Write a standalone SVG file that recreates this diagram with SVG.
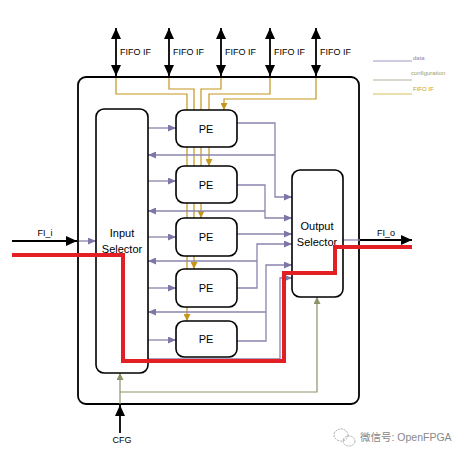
<svg xmlns="http://www.w3.org/2000/svg" width="468" height="458" viewBox="0 0 468 458">
<style>
.box{fill:#fff;stroke:#000;stroke-width:1.6}
.t{font-family:"Liberation Sans",Arial,sans-serif;fill:#000;text-anchor:middle}
.lbl{font-family:"Liberation Sans",Arial,sans-serif;fill:#000;font-size:9px}
.blk{fill:none;stroke:#000;stroke-width:1.8}
.dat{fill:none;stroke:#8a84ad;stroke-width:1.3}
.gld{fill:none;stroke:#c4961c;stroke-width:1.2}
.cfg{fill:none;stroke:#8e9268;stroke-width:1.2}
.red{fill:none;stroke:#e31e24;stroke-width:4;stroke-linejoin:miter}
.leg{font-family:"Liberation Sans",Arial,sans-serif;font-size:6px}
</style>
<defs>
<marker id="ab" markerWidth="11" markerHeight="10" refX="11" refY="5" orient="auto-start-reverse" markerUnits="userSpaceOnUse"><path d="M0,0 L11,5 L0,10 z" fill="#000"/></marker>
<marker id="ap" markerWidth="8" markerHeight="7" refX="8" refY="3.5" orient="auto" markerUnits="userSpaceOnUse"><path d="M0,0 L8,3.5 L0,7 z" fill="#7d76a6"/></marker>
<marker id="ag" markerWidth="7" markerHeight="7" refX="7" refY="3.5" orient="auto" markerUnits="userSpaceOnUse"><path d="M0,0 L7,3.5 L0,7 z" fill="#c4961c"/></marker>
<marker id="ac" markerWidth="7" markerHeight="7" refX="7" refY="3.5" orient="auto" markerUnits="userSpaceOnUse"><path d="M0,0 L7,3.5 L0,7 z" fill="#8e9268"/></marker>
</defs>

<g id="outer"><rect x="78" y="77" width="281" height="327" rx="8" fill="#fff" stroke="#000" stroke-width="1.8"/></g>

<g id="connectors">
<!-- FIFO IF external arrows -->
<path class="blk" d="M116,28 V76" marker-start="url(#ab)" marker-end="url(#ab)"/>
<path class="blk" d="M169,28 V76" marker-start="url(#ab)" marker-end="url(#ab)"/>
<path class="blk" d="M221,28 V76" marker-start="url(#ab)" marker-end="url(#ab)"/>
<path class="blk" d="M270,28 V76" marker-start="url(#ab)" marker-end="url(#ab)"/>
<path class="blk" d="M316,28 V76" marker-start="url(#ab)" marker-end="url(#ab)"/>
<!-- gold FIFO lines -->
<path class="gld" d="M116,78 V94 H187 V110"/>
<path class="gld" d="M169,78 V89 H194 V110"/>
<path class="gld" d="M221,78 V89 H201 V110"/>
<path class="gld" d="M270,78 V94 H209 V110"/>
<path class="gld" d="M316,78 V99 H224 V110" marker-end="url(#ag)"/>
<path class="gld" d="M187,147 V166 M194,147 V166 M201,147 V166"/>
<path class="gld" d="M209,147 V166" marker-end="url(#ag)"/>
<path class="gld" d="M187,203 V218 M194,203 V218"/>
<path class="gld" d="M201,203 V218" marker-end="url(#ag)"/>
<path class="gld" d="M187,256 V269"/>
<path class="gld" d="M194,256 V269" marker-end="url(#ag)"/>
<path class="gld" d="M187,307 V321" marker-end="url(#ag)"/>
<!-- data lines -->
<path class="dat" d="M79,241 H96" marker-end="url(#ap)"/>
<path class="dat" d="M148,128 H176" marker-end="url(#ap)"/>
<path class="dat" d="M148,181 H176" marker-end="url(#ap)"/>
<path class="dat" d="M148,237 H176" marker-end="url(#ap)"/>
<path class="dat" d="M148,288 H176" marker-end="url(#ap)"/>
<path class="dat" d="M148,340 H176" marker-end="url(#ap)"/>
<path class="dat" d="M237,123 H275 V197 H292" marker-end="url(#ap)"/>
<path class="dat" d="M275,155 H148" marker-end="url(#ap)"/>
<path class="dat" d="M237,185 H265 V218 H292" marker-end="url(#ap)"/>
<path class="dat" d="M265,211 H148" marker-end="url(#ap)"/>
<path class="dat" d="M237,234 H292" marker-end="url(#ap)"/>
<path class="dat" d="M237,288 H257 V244 H292" marker-end="url(#ap)"/>
<path class="dat" d="M257,261 H148" marker-end="url(#ap)"/>
<path class="dat" d="M237,341 H266 V265 H292" marker-end="url(#ap)"/>
<path class="dat" d="M266,312 H148" marker-end="url(#ap)"/>
<path class="dat" d="M148,359 H280 V278 H292" marker-end="url(#ap)"/>
<path class="dat" d="M343,240 H360"/>
<!-- config lines -->
<path class="cfg" d="M120,404 V373" marker-end="url(#ac)"/>
<path class="cfg" d="M120,392 H317 V297" marker-end="url(#ac)"/>
<!-- external I/O -->
<path class="blk" d="M12,241 H77" marker-end="url(#ab)" stroke-width="1.4"/>
<path class="blk" d="M360,240 H412" marker-end="url(#ab)" stroke-width="1.4"/>
<path class="blk" d="M120,433 V405" marker-end="url(#ab)" stroke-width="1.4"/>
</g>

<g id="input-selector"><rect class="box" x="96" y="109" width="52" height="264" rx="8"/>
<text class="t" x="122" y="237" font-size="11">Input</text><text class="t" x="122" y="253" font-size="11">Selector</text></g>
<g id="output-selector"><rect class="box" x="292" y="170" width="51" height="127" rx="8"/>
<text class="t" x="317" y="230" font-size="11">Output</text><text class="t" x="317" y="246" font-size="11">Selector</text></g>
<g id="pe1"><rect class="box" x="176" y="110" width="61" height="37" rx="8"/><text class="t" x="206" y="133" font-size="11">PE</text></g>
<g id="pe2"><rect class="box" x="176" y="166" width="61" height="37" rx="8"/><text class="t" x="206" y="189" font-size="11">PE</text></g>
<g id="pe3"><rect class="box" x="176" y="218" width="61" height="38" rx="8"/><text class="t" x="206" y="241" font-size="11">PE</text></g>
<g id="pe4"><rect class="box" x="176" y="269" width="61" height="38" rx="8"/><text class="t" x="206" y="292" font-size="11">PE</text></g>
<g id="pe5"><rect class="box" x="176" y="321" width="61" height="36" rx="8"/><text class="t" x="206" y="343" font-size="11">PE</text></g>

<g id="red-path"><path class="red" d="M12,255 H123 V361 H284 V273 H335 V247 H412"/></g>

<g id="labels">
<text class="lbl" x="120" y="55">FIFO IF</text>
<text class="lbl" x="173" y="55">FIFO IF</text>
<text class="lbl" x="225" y="55">FIFO IF</text>
<text class="lbl" x="274" y="55">FIFO IF</text>
<text class="lbl" x="320" y="55">FIFO IF</text>
<text class="t" x="45" y="236" font-size="9">FI_i</text>
<text class="t" x="386" y="236" font-size="9">FI_o</text>
<text class="t" x="122" y="443" font-size="9">CFG</text>
</g>

<g id="legend">
<path d="M373,61 H412" stroke="#9e9ac2" stroke-width="1.2"/>
<text class="leg" x="413" y="60" fill="#8a86b0">data</text>
<path d="M373,80 H412" stroke="#b3b69c" stroke-width="1.2"/>
<text class="leg" x="411" y="75" fill="#9a9c70">configuration</text>
<path d="M373,94 H412" stroke="#d8bf5c" stroke-width="1.2"/>
<text class="leg" x="413" y="91" fill="#c99a2a">FIFO IF</text>
</g>

<g id="watermark">
<ellipse cx="341" cy="435" rx="7" ry="6" fill="none" stroke="#aaa" stroke-width="1" stroke-dasharray="2,1"/>
<ellipse cx="349" cy="441" rx="6" ry="5" fill="none" stroke="#aaa" stroke-width="1" stroke-dasharray="2,1"/>
<text x="360" y="441" font-family="'Liberation Sans','Noto Sans CJK SC',sans-serif" font-size="10.5" fill="#888">微信号: OpenFPGA</text>
</g>
</svg>
